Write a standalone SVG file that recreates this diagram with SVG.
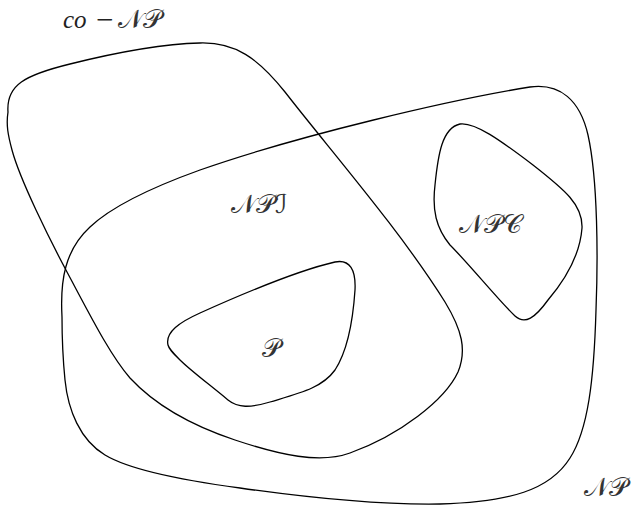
<svg xmlns="http://www.w3.org/2000/svg" width="633" height="507" viewBox="0 0 633 507">
<style>
.set{fill:none;stroke:#000;stroke-width:1.3}
.lbl{font-family:"DejaVu Serif","DejaVu Sans","Noto Sans",serif;font-size:26px;fill:#333}
.it{font-family:"Liberation Serif",serif;font-style:italic;font-size:25px;fill:#222}
.mi{font-family:"Liberation Serif",serif;font-size:31px;fill:#222}
</style>
<rect width="633" height="507" fill="#fff"/>
<g id="coNP">
<path class="set" d="M 8,112 C 6,85 25,75 70,64 C 110,54 160,44 200,43 C 235,42 258,58 285,92 C 330,150 400,230 445,302 C 462,330 467,350 458,372 C 445,400 400,435 350,453 C 320,464 280,455 235,440 C 190,425 155,405 130,378 C 110,355 90,315 67,272 C 50,240 20,180 12,150 C 8,135 6,125 8,112 Z"/>
<text x="63" y="28"><tspan class="it">co</tspan><tspan class="mi" x="96" y="30">−</tspan><tspan class="lbl" x="118" y="28">𝒩𝒫</tspan></text>
</g>
<g id="NP">
<path class="set" d="M 62,317 C 60,280 65,250 90,227 C 110,208 150,188 200,170 C 300,135 450,100 530,87 C 560,83 580,100 588,135 C 598,180 598,260 596,310 C 594,380 588,430 570,458 C 550,490 510,502 440,504 C 380,505 310,498 240,488 C 180,480 130,470 105,455 C 80,440 68,410 65,380 C 62,350 62,330 62,317 Z"/>
<text class="lbl" x="584" y="496">𝒩𝒫</text>
</g>
<g id="NPI">
<text class="lbl" x="231" y="213">𝒩𝒫ℐ</text>
</g>
<g id="P">
<path class="set" d="M 168,345 C 165,332 180,322 200,313 C 240,295 300,270 335,262 C 350,259 356,270 355,290 C 353,320 348,350 335,370 C 322,388 300,393 270,402 C 250,408 238,408 228,400 C 210,385 190,370 180,360 C 172,352 169,349 168,345 Z"/>
<text class="lbl" x="262" y="357">𝒫</text>
</g>
<g id="NPC">
<path class="set" d="M 460,124 C 475,122 500,140 533,165 C 565,190 583,205 582,228 C 580,255 565,280 548,300 C 535,318 525,325 515,316 C 500,302 470,265 450,245 C 436,228 432,210 435,185 C 438,155 442,128 460,124 Z"/>
<text class="lbl" x="459" y="233">𝒩𝒫𝒞</text>
</g>
</svg>
